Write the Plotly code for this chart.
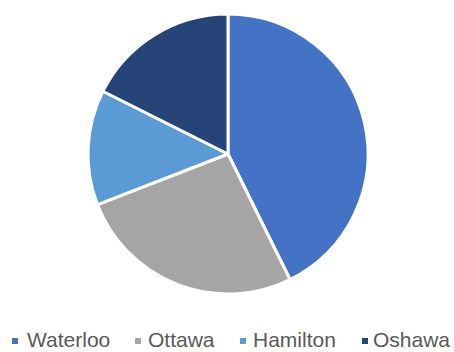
import plotly.graph_objects as go

labels = ["Waterloo", "Ottawa", "Hamilton", "Oshawa"]
values = [42.7, 26.4, 13.3, 17.6]
colors = ["#4472C4", "#A5A5A5", "#5B9BD5", "#264478"]

W, H = 454, 352
cx, cy, r = 228, 154, 140

fig = go.Figure(go.Pie(
    labels=labels,
    values=values,
    sort=False,
    direction="clockwise",
    rotation=0,
    textinfo="none",
    hoverinfo="label+value",
    marker=dict(colors=colors, line=dict(color="white", width=3)),
    domain=dict(x=[(cx - r) / W, (cx + r) / W], y=[(H - cy - r) / H, (H - cy + r) / H]),
    showlegend=False,
))

# Custom legend (Excel-style): small square key + label
key_x = [12, 135, 240, 362]   # left edge of key squares, px
text_x = [26, 147, 252, 372]  # left edge of label text, px
key_size = 6
key_cy = 341
text_cy = 339.5

shapes = []
annotations = []
for lab, col, kx, tx in zip(labels, colors, key_x, text_x):
    shapes.append(dict(
        type="rect", xref="paper", yref="paper",
        x0=kx / W, x1=(kx + key_size) / W,
        y0=(H - key_cy - key_size / 2) / H, y1=(H - key_cy + key_size / 2) / H,
        fillcolor=col, line=dict(width=0),
    ))
    annotations.append(dict(
        text=lab, xref="paper", yref="paper",
        x=tx / W, xanchor="left",
        y=(H - text_cy) / H, yanchor="middle",
        showarrow=False, borderpad=0,
        font=dict(family="Liberation Sans, Arial, sans-serif", size=21, color="#595959"),
    ))

fig.update_layout(
    width=W, height=H,
    margin=dict(l=0, r=0, t=0, b=0),
    paper_bgcolor="white",
    plot_bgcolor="white",
    font=dict(family="Liberation Sans, Arial, sans-serif", size=21, color="#595959"),
    shapes=shapes,
    annotations=annotations,
)

fig.write_html("out.html")
